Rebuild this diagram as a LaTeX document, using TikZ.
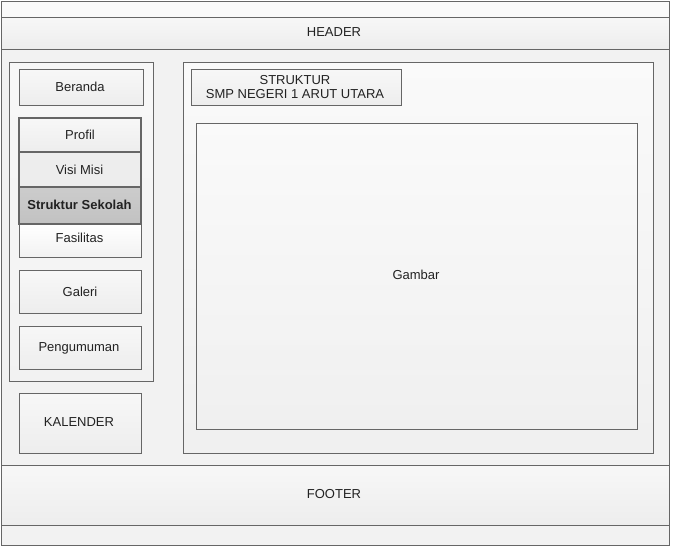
\documentclass[tikz,border=0pt]{standalone}
\usepackage{fontspec}
\setmainfont{Liberation Sans}
\usetikzlibrary{shadows}
\definecolor{edge}{HTML}{666666}
\definecolor{txt}{HTML}{222222}
\tikzset{
  box/.style={draw=edge, line width=0.9pt, top color=white!97!black, bottom color=white!93!black, drop shadow={shadow xshift=1.2pt, shadow yshift=-1.2pt, opacity=0.15}},
  panel/.style={draw=edge, line width=0.9pt, fill=white!96!black},
  lbl/.style={font=\fontsize{13}{15}\selectfont, text=txt, align=center},
}
\begin{document}
\begin{tikzpicture}[x=1pt,y=-1pt]
\useasboundingbox (0,0) rectangle (673,549);
% outer frame
\draw[panel, fill=white!95!black] (1.5,1.5) rectangle (669,545.5);
\fill[white!98!black] (2,2) rectangle (668.5,17);
% header
\draw[box] (1.5,17) rectangle (669,49);
\node[lbl] (header) at (334,32.5) {HEADER};
% footer
\draw[box] (1.5,465) rectangle (669,525);
\node[lbl] (footer) at (334,494) {FOOTER};
% sidebar
\draw[box, top color=white!97!black, bottom color=white!95!black] (9,62) rectangle (153,381);
\draw[box] (19,69) rectangle (143,105);
\node[lbl] (beranda) at (80,87) {Beranda};
% stacked menu
\draw[draw=edge, line width=0.9pt, top color=white, bottom color=white!95!black] (19,224) rectangle (141,257);
\node[lbl] (fasilitas) at (79.5,238) {Fasilitas};
\draw[draw=edge, line width=1.6pt, top color=white!97!black, bottom color=white!93!black] (19,118) rectangle (141,152);
\node[lbl] (profil) at (80,135) {Profil};
\draw[draw=edge, line width=1.6pt, fill=white!93!black] (19,152) rectangle (141,187);
\node[lbl] (visi) at (79.5,170) {Visi Misi};
\draw[draw=edge, line width=1.6pt, top color=white!80!black, bottom color=white!76!black] (19,187) rectangle (141,224);
\node[lbl, font=\fontsize{13}{15}\selectfont\bfseries] (struktur) at (79.5,205) {Struktur Sekolah};
% other menu
\draw[box] (19,270) rectangle (141,313);
\node[lbl] (galeri) at (80,292) {Galeri};
\draw[box] (19,326) rectangle (141,369);
\node[lbl] (pengumuman) at (79,348) {Pengumuman};
\draw[box] (19,393) rectangle (141,453);
\node[lbl] (kalender) at (79,422) {KALENDER};
% main content
\draw[box, top color=white!98!black, bottom color=white!94!black] (183,62) rectangle (653,453);
\draw[box] (191,69) rectangle (401,105);
\node[lbl, font=\fontsize{13}{14}\selectfont] (judul) at (295,87) {STRUKTUR\\SMP NEGERI 1 ARUT UTARA};
\draw[box, top color=white!98!black, bottom color=white!94!black] (196,123) rectangle (637,429);
\node[lbl] (gambar) at (416,275) {Gambar};
\end{tikzpicture}
\end{document}
